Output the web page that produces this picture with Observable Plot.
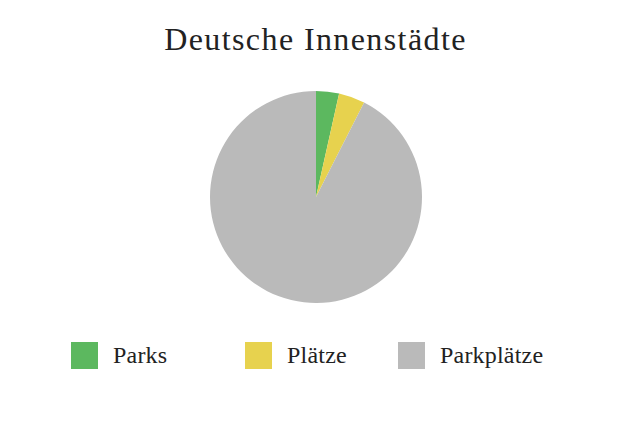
<!DOCTYPE html>
<html>
<head>
<meta charset="utf-8">
<script src="https://cdn.jsdelivr.net/npm/d3@7"></script>
<script src="https://cdn.jsdelivr.net/npm/@observablehq/plot@0.6"></script>
<style>
  html, body { margin: 0; padding: 0; background: #fff; }
  #wrap { position: relative; width: 631px; height: 421px; font-family: "Liberation Serif", "DejaVu Serif", serif; color: #222; }
  #title { position: absolute; left: 0; top: 21px; width: 631px; text-align: center; font-size: 32px; line-height: 36px; letter-spacing: 1.4px; }
  #chart { position: absolute; left: 0; top: 70px; }
  .lg { position: absolute; top: 342px; display: flex; align-items: center; font-size: 24px; letter-spacing: 0.2px; }
  .sw { width: 27px; height: 27px; margin-right: 15px; }
</style>
</head>
<body>
<div id="wrap">
  <div id="title">Deutsche Innenstädte</div>
  <div id="chart"></div>
</div>
<script>
const categories = ["Parks", "Plätze", "Parkplätze"];
const shares = [3.5, 4.0, 92.5];
const colors = ["#5cb85f", "#e7d24e", "#bababa"];

const data = categories.map((c, i) => ({label: c, value: shares[i]}));
const color = Plot.scale({color: {type: "ordinal", domain: categories, range: colors}});

const radius = 106;
const pieMark = (index, scales, values, dimensions) => {
  const {width, height} = dimensions;
  const g = d3.create("svg:g").attr("transform", `translate(${width / 2 + 0.5},${height / 2})`);
  const arcs = d3.pie().sort(null).value(d => d.value)(data);
  g.selectAll("path")
    .data(arcs)
    .join("path")
    .attr("d", d3.arc().innerRadius(0).outerRadius(radius))
    .attr("fill", d => color.apply(d.data.label));
  return g.node();
};

const plot = Plot.plot({
  width: 631,
  height: 254,
  margin: 0,
  x: {axis: null},
  y: {axis: null},
  marks: [pieMark]
});
document.getElementById("chart").appendChild(plot);

const legendLeft = [71, 245, 398];
const wrap = document.getElementById("wrap");
categories.forEach((c, i) => {
  const item = document.createElement("div");
  item.className = "lg";
  item.style.left = legendLeft[i] + "px";
  const sw = document.createElement("div");
  sw.className = "sw";
  sw.style.background = color.apply(c);
  const t = document.createElement("span");
  t.textContent = c;
  item.appendChild(sw);
  item.appendChild(t);
  wrap.appendChild(item);
});
</script>
</body>
</html>
